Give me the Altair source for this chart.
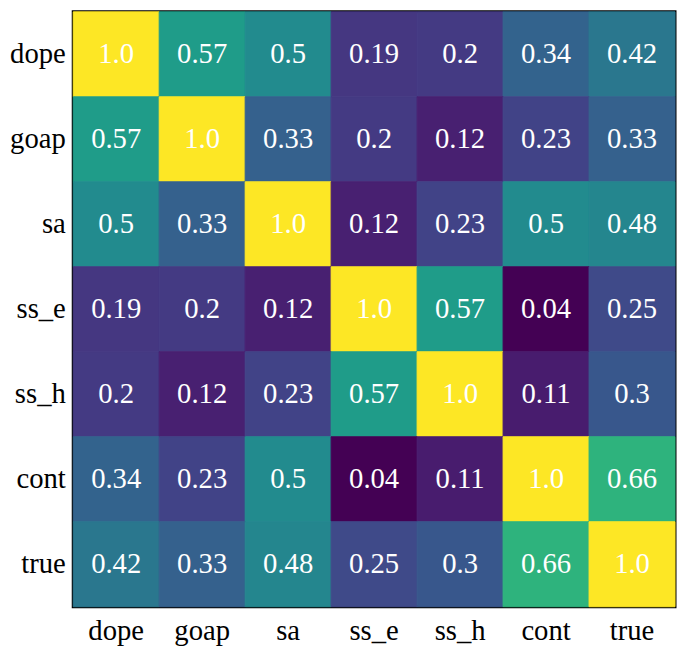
import altair as alt
import pandas as pd

names = ["dope", "goap", "sa", "ss_e", "ss_h", "cont", "true"]
row_dope = [1.0, 0.57, 0.5, 0.19, 0.2, 0.34, 0.42]
row_goap = [0.57, 1.0, 0.33, 0.2, 0.12, 0.23, 0.33]
row_sa = [0.5, 0.33, 1.0, 0.12, 0.23, 0.5, 0.48]
row_ss_e = [0.19, 0.2, 0.12, 1.0, 0.57, 0.04, 0.25]
row_ss_h = [0.2, 0.12, 0.23, 0.57, 1.0, 0.11, 0.3]
row_cont = [0.34, 0.23, 0.5, 0.04, 0.11, 1.0, 0.66]
row_true = [0.42, 0.33, 0.48, 0.25, 0.3, 0.66, 1.0]
rows = [row_dope, row_goap, row_sa, row_ss_e, row_ss_h, row_cont, row_true]

records = []
for r, row in zip(names, rows):
    for c, v in zip(names, row):
        records.append({"row": r, "col": c, "value": v, "label": str(v)})
df = pd.DataFrame(records)

FONT = "Liberation Serif"
cscale = alt.Scale(scheme="viridis", domain=[0.04, 1.0])

base = alt.Chart(df).encode(
    x=alt.X("col:N", sort=names, title=None,
            axis=alt.Axis(labelAngle=0, ticks=False, domain=False, grid=False, labelFont=FONT,
                          labelFontSize=29, labelColor="black", labelPadding=10)),
    y=alt.Y("row:N", sort=names, title=None,
            axis=alt.Axis(ticks=False, domain=False, grid=False, labelFont=FONT,
                          labelFontSize=29, labelColor="black", labelPadding=8)),
)

rect = base.mark_rect(strokeWidth=1).encode(
    color=alt.Color("value:Q", scale=cscale, legend=None),
    stroke=alt.Stroke("value:Q", scale=cscale, legend=None),
)
text = base.mark_text(font=FONT, fontSize=29, color="white").encode(text="label:N")

chart = (rect + text).properties(
    width=609, height=602,
    autosize=alt.AutoSizeParams(type="none"),
    padding={"left": 66, "top": 0, "right": 2, "bottom": 50},
).configure_view(stroke="black", strokeWidth=3).configure_scale(bandPaddingInner=0, bandPaddingOuter=0)

chart.save("out.html", embed_options={"renderer": "svg", "actions": False})
